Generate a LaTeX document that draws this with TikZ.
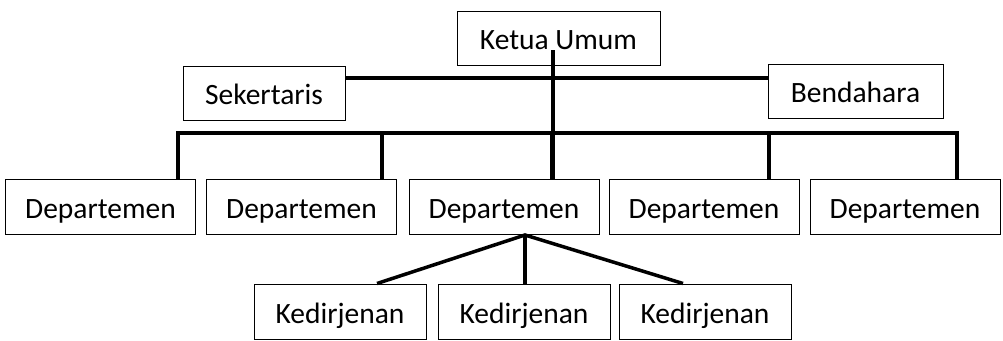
\documentclass[tikz,border=0pt]{standalone}
\usepackage{fontspec}
\setmainfont{Carlito}
\usepackage{tikz}
\usetikzlibrary{positioning}
\tikzset{unit/.style = {draw, line width = 1pt, inner sep = 0, minimum height = 54,
    text height = 23, text depth = 0, font = \fontsize{29.5}{31}\selectfont}}
\tikzset{link/.style = {line width = 3.5pt}}

\begin{document}
\begin{tikzpicture}[x = 1pt, y = -1pt]
      \useasboundingbox (0, 0) rectangle (1003, 340);
      \node [unit, minimum width = 203] (ketua) at (558.5, 38) {Ketua Umum};
      \node [unit, minimum width = 162] (sekretaris) at (264, 93) {Sekertaris};
      \node [unit, minimum width = 175] (bendahara) at (855.5, 91) {Bendahara};
      \foreach \i/\x in {1/100.5, 2/301.5, 3/504, 4/704, 5/905} {
        \node [unit, minimum width = 190, minimum height = 55] (dep\i) at (\x, 206.5) {Departemen};
      }
      \foreach \i/\x in {1/340, 2/524, 3/705} {
        \node [unit, minimum width = 172, minimum height = 55] (ked\i) at (\x, 311.5) {Kedirjenan};
      }
      \coordinate (top) at (553, 50);
      \coordinate (staf) at (0, 78);
      \coordinate (busl) at (178, 133);
      \coordinate (busr) at (957, 133);
      \coordinate (apex) at (525, 235);
      \draw [link] (sekretaris.east |- staf) -- (bendahara.west |- staf);
      \draw [link] (top) -- (top |- dep3.north);
      \draw [link] (dep1.north -| busl) -- (busl) -- (busr) -- (dep5.north -| busr);
      \foreach \i/\x in {2/382, 3/552, 4/769} {
        \draw [link] (\x, 133) -- (dep\i.north -| \x, 0);
      }
      \draw [link] ([xshift = 37]ked1.north) -- (apex) -- ([xshift = -22]ked3.north);
      \draw [link] (apex) -- (ked2.north -| apex);
    \end{tikzpicture}
\end{document}
